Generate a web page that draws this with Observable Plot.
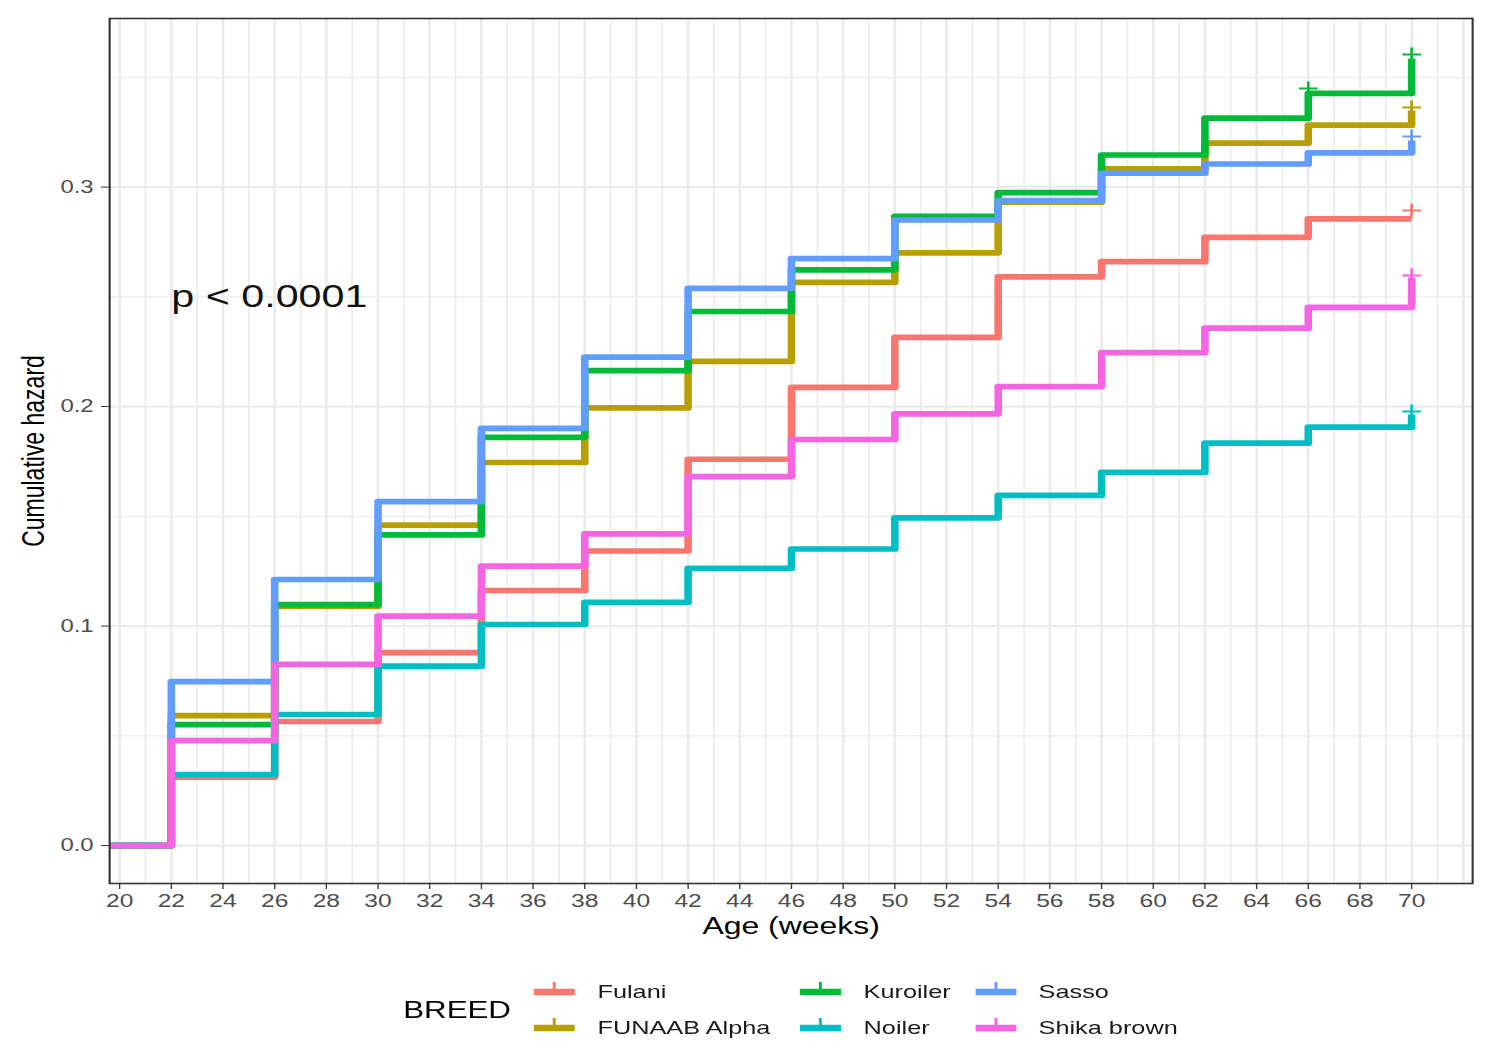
<!DOCTYPE html>
<html>
<head>
<meta charset="utf-8">
<script src="https://cdn.jsdelivr.net/npm/d3@7"></script>
<script src="https://cdn.jsdelivr.net/npm/@observablehq/plot@0.6"></script>
<style>
  html, body { margin: 0; padding: 0; background: #fff; overflow: hidden; }
  #stage { position: relative; width: 1122px; height: 1058px; transform-origin: 0 0; font-family: "Liberation Sans", Arial, sans-serif; }
  #legend { position: absolute; top: 974px; left: 303px; display: flex; align-items: center; }
  #legend .title { width: 98px; font-size: 23.5px; color: #000; }
  #legend .grid { display: grid; grid-template-columns: 200px 131.5px auto; grid-template-rows: 36px 36px; grid-auto-flow: column; }
  #legend .item { display: flex; align-items: center; font-size: 19px; color: #1a1a1a; }
  #legend .item svg { margin-right: 17px; }
  g[aria-label="x-axis tick label"], g[aria-label="y-axis tick label"] { fill: #4D4D4D; }
  g[aria-label="x-axis tick"], g[aria-label="y-axis tick"] { stroke: #333333; }
</style>
</head>
<body>
<div id="stage"></div>
<script>
// ---- data ----
const breeds = ["Fulani", "FUNAAB Alpha", "Kuroiler", "Noiler", "Sasso", "Shika brown"];
const colors = ["#F8766D", "#B79F00", "#00BA38", "#00BFC4", "#619CFF", "#F564E3"];
const times = [0, 22, 26, 30, 34, 38, 42, 46, 50, 54, 58, 62, 66, 70];
const fulani   = [0, 0.0311, 0.0565, 0.0879, 0.1162, 0.1342, 0.1760, 0.2087, 0.2315, 0.2591, 0.2660, 0.2771, 0.2855, 0.2855];
const funaab   = [0, 0.0592, 0.1089, 0.1460, 0.1745, 0.1994, 0.2206, 0.2566, 0.2700, 0.2931, 0.3083, 0.3200, 0.3282, 0.3349];
const kuroiler = [0, 0.0551, 0.1098, 0.1415, 0.1860, 0.2164, 0.2433, 0.2623, 0.2867, 0.2975, 0.3146, 0.3314, 0.3427, 0.3585];
const noiler   = [0, 0.0323, 0.0597, 0.0817, 0.1007, 0.1108, 0.1263, 0.1351, 0.1493, 0.1595, 0.1700, 0.1833, 0.1906, 0.1964];
const sasso    = [0, 0.0747, 0.1212, 0.1567, 0.1901, 0.2225, 0.2538, 0.2674, 0.2850, 0.2938, 0.3063, 0.3105, 0.3156, 0.3212];
const shika    = [0, 0.0478, 0.0825, 0.1045, 0.1273, 0.1420, 0.1681, 0.1850, 0.1967, 0.2091, 0.2246, 0.2357, 0.2452, 0.2588];
const censorBreed = ["Kuroiler", "Kuroiler", "FUNAAB Alpha", "Sasso", "Fulani", "Shika brown", "Noiler"];
const censorTime  = [66, 70, 70, 70, 70, 70, 70];
const censorValue = [0.3449, 0.3604, 0.3363, 0.3230, 0.2893, 0.2597, 0.1977];
const xTicks = [20, 22, 24, 26, 28, 30, 32, 34, 36, 38, 40, 42, 44, 46, 48, 50, 52, 54, 56, 58, 60, 62, 64, 66, 68, 70];
const xGridMajor = [20, 22, 24, 26, 28, 30, 32, 34, 36, 38, 40, 42, 44, 46, 48, 50, 52, 54, 56, 58, 60, 62, 64, 66, 68, 70, 72];
const xGridMinor = [21, 23, 25, 27, 29, 31, 33, 35, 37, 39, 41, 43, 45, 47, 49, 51, 53, 55, 57, 59, 61, 63, 65, 67, 69, 71];
const yTicks = [0, 0.1, 0.2, 0.3];
const yGridMinor = [0.05, 0.15, 0.25, 0.35];
const pLabel = [{time: 22, value: 0.25, text: "p < 0.0001"}];
const xTitle = "Age (weeks)";
const yTitle = "Cumulative hazard";
const legendTitle = "BREED";

// ---- build tables ----
const seriesValues = [fulani, funaab, kuroiler, noiler, sasso, shika];
const rows = [];
breeds.forEach((b, i) => times.forEach((t, j) => rows.push({breed: b, time: t, value: seriesValues[i][j]})));
const censors = censorBreed.map((b, i) => ({breed: b, time: censorTime[i], value: censorValue[i]}));

const plusSymbol = {
  draw(context, size) {
    const r = Math.sqrt(size / Math.PI);
    context.moveTo(-r, 0); context.lineTo(r, 0);
    context.moveTo(0, -r); context.lineTo(0, r);
  }
};

const W = 1122, S = 1493 / W;
const stage = document.getElementById("stage");
stage.style.transform = `scaleX(${S})`;

const chart = Plot.plot({
  width: W,
  height: 950,
  marginTop: 18,
  marginBottom: 67,
  marginLeft: 81.9,
  marginRight: 15.8,
  style: {fontFamily: "'Liberation Sans', Arial, sans-serif", background: "white", overflow: "visible"},
  x: {domain: [19.613, 72.361]},
  y: {domain: [-0.0173, 0.3768]},
  color: {domain: breeds, range: colors},
  marks: [
    Plot.ruleX(xGridMinor, {stroke: "#EBEBEB", strokeWidth: 1.2}),
    Plot.ruleX(xGridMajor, {stroke: "#EBEBEB", strokeWidth: 2}),
    Plot.ruleY(yGridMinor, {stroke: "#EBEBEB", strokeWidth: 1.2}),
    Plot.ruleY(yTicks, {stroke: "#EBEBEB", strokeWidth: 2.2}),
    Plot.line(rows, {x: "time", y: "value", z: "breed", stroke: "breed", curve: "step-after",
      strokeWidth: 5.7, strokeLinecap: "butt", strokeLinejoin: "round", clip: true}),
    Plot.dot(censors, {x: "time", y: "value", stroke: "breed", symbol: plusSymbol, r: 7, fill: "none", strokeWidth: 2}),
    Plot.text(pLabel, {x: "time", y: "value", text: "text", textAnchor: "start", lineAnchor: "middle", fontSize: 31, fill: "#111"}),
    Plot.frame({stroke: "#333333", strokeWidth: 1.6}),
    Plot.axisX(xTicks, {tickSize: 6, tickPadding: 4, fontSize: 18.5, label: null, tickFormat: d => String(d)}),
    Plot.axisY(yTicks, {tickSize: 6, tickPadding: 6, fontSize: 18, label: null, tickFormat: d3.format(".1f")}),
    Plot.text([xTitle], {text: d => d, frameAnchor: "bottom", textAnchor: "middle", lineAnchor: "middle", dy: 43, fontSize: 24, fill: "#000"}),
    Plot.text([yTitle], {text: d => d, frameAnchor: "left", textAnchor: "middle", lineAnchor: "middle", dx: -57, rotate: -90, fontSize: 23, fill: "#000"})
  ]
});
stage.appendChild(chart);

// ---- legend ----
const legend = document.createElement("div");
legend.id = "legend";
const title = document.createElement("div");
title.className = "title";
title.textContent = legendTitle;
legend.appendChild(title);
const grid = document.createElement("div");
grid.className = "grid";
breeds.forEach((b, i) => {
  const item = document.createElement("div");
  item.className = "item";
  item.innerHTML = `<svg width="31" height="24" viewBox="0 0 31 24"><line x1="0" x2="31" y1="12" y2="12" stroke="${colors[i]}" stroke-width="6.7"/><line x1="15.5" x2="15.5" y1="2" y2="12" stroke="${colors[i]}" stroke-width="2.2"/></svg><span>${b}</span>`;
  grid.appendChild(item);
});
legend.appendChild(grid);
stage.appendChild(legend);
</script>
</body>
</html>
